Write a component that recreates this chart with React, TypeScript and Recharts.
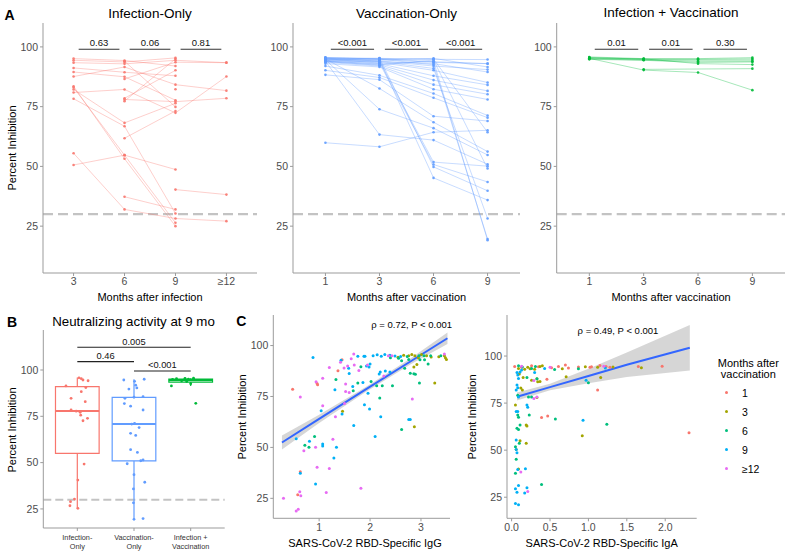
import React from 'react';
import {
  ScatterChart,
  ComposedChart,
  Scatter,
  Line,
  Area,
  XAxis,
  YAxis,
  ReferenceLine,
  ReferenceArea,
} from 'recharts';

const FONT = '"Liberation Sans", Arial, Helvetica, sans-serif';
const AXIS_GREY = '#9b9b9b';
const TICK_GREY = '#4d4d4d';
const CUTOFF_GREY = '#c3c3c3';

const GROUP_COLORS = ['#F8766D', '#619CFF', '#00BA38'];
const MONTH_COLORS = ['#F8766D', '#A3A500', '#00BF7D', '#00B0F6', '#E76BF3'];
const MONTH_LABELS = ['1', '3', '6', '9', '≥12'];

// ---- Panel A: paired samples, one row per subject (null = not sampled)
const infTimes = ['3', '6', '9', '≥12'];
const vacTimes = ['1', '3', '6', '9'];

const infOnly = [
  [95.1, 94.3, 92.0, null],
  [94.4, 93.7, 95.4, null],
  [93.4, 92.9, 94.4, 93.4],
  [91.2, 89.4, 87.9, null],
  [89.5, 87.5, 77.7, null],
  [87.6, 91.6, 84.2, 81.7],
  [83.5, 53.2, 25.0, null],
  [83.0, 54.7, 26.4, null],
  [82.2, 68.2, 76.4, null],
  [80.9, 82.2, 72.4, 87.6],
  [78.3, 66.8, 30.3, null],
  [55.5, 32.0, 28.2, 27.1],
  [50.6, 54.7, 48.7, null],
  [null, 37.3, 32.0, null],
  [null, 86.6, 93.6, 93.4],
  [null, 78.5, 90.2, null],
  [null, 78.0, 77.1, 78.5],
  [null, 77.3, 95.0, null],
  [null, 61.8, 73.2, null],
  [null, null, 40.3, 38.2],
  [null, null, 82.3, null],
  [null, 94.0, 74.9, null],
];

const vacOnly = [
  [95.5, 95.0, 94.8, 94.7],
  [95.2, 94.8, 93.5, 93.0],
  [95.0, 94.5, 95.2, 91.6],
  [94.8, 94.2, 92.0, 90.5],
  [94.5, 93.8, 93.0, 89.5],
  [94.2, 93.5, 90.2, 85.1],
  [94.0, 93.0, 87.9, 84.1],
  [93.8, 92.5, 86.1, 81.6],
  [93.5, 92.0, 84.2, 80.2],
  [93.0, 91.6, 82.3, 78.0],
  [92.0, 88.1, 80.5, 71.3],
  [90.2, 87.2, 78.7, 70.4],
  [88.3, 86.3, 71.0, 69.0],
  [95.0, 82.6, 68.5, 56.2],
  [94.6, 73.9, 66.0, 54.8],
  [59.9, 58.2, 64.3, 65.1],
  [94.0, 63.3, 61.0, 50.9],
  [95.3, 94.0, 51.8, 50.1],
  [95.1, 93.2, 50.8, 43.5],
  [94.9, 95.3, 49.8, 39.8],
  [94.7, 94.6, 45.2, 35.9],
  [94.3, 93.9, 91.0, 28.2],
  [95.4, 94.9, 92.5, 19.6],
  [94.1, 92.8, 94.0, 19.1],
  [93.9, 92.3, 94.5, 49.1],
  [95.6, 95.1, 93.8, 93.0],
  [null, 95.2, 94.9, 64.3],
];

const infVac = [
  [95.8, 95.1, 95.1, 95.5],
  [95.5, 94.9, 94.8, 95.0],
  [95.3, 94.7, 94.5, 94.5],
  [95.0, 94.5, 94.0, 94.0],
  [94.8, 94.4, 93.5, 93.7],
  [95.2, 90.3, 89.3, 81.9],
  [null, 90.6, null, 90.9],
  [95.4, 95.0, 93.0, 92.6],
];

const infOnlyP = ['0.63', '0.06', '0.81'];
const vacOnlyP = ['<0.001', '<0.001', '<0.001'];
const infVacP = ['0.01', '0.01', '0.30'];

// ---- Panel B: 9 month comparison
const groups9mo = ['Infection-\nOnly', 'Vaccination-\nOnly', 'Infection +\nVaccination'];
const box9mo = [
  { lo: 25.3, q1: 55.0, med: 77.9, q3: 91.0, hi: 96.0 },
  { lo: 19.4, q1: 50.9, med: 70.8, q3: 85.2, hi: 95.0 },
  { lo: 91.4, q1: 93.5, med: 94.6, q3: 95.1, hi: 95.6 },
];
const inf9mo = [
  [0.8, 91.4], [1.03, 95.8], [1.07, 95.3], [1.1, 94.6], [1.19, 94.2], [1.15, 90.5],
  [0.89, 84.7], [1.07, 88.3], [1.14, 82.9], [0.89, 78.4], [1.05, 77.2], [1.06, 75.6],
  [1.18, 73.9], [1.1, 72.6], [1.12, 49.2], [1.01, 40.6], [0.95, 30.3], [0.88, 28.9],
  [0.87, 26.7], [1.01, 25.3], [0.98, 77.8],
];
const vac9mo = [
  [1.82, 94.6], [2.18, 95.0], [2.01, 93.9], [2.03, 91.8], [2.05, 90.3], [1.91, 89.7],
  [1.84, 84.7], [1.83, 81.9], [1.94, 80.5], [2.0, 85.3], [2.16, 85.6], [2.16, 78.4],
  [2.01, 71.2], [2.09, 68.9], [1.94, 65.8], [2.03, 64.7], [1.94, 57.0], [2.06, 55.5],
  [1.88, 49.4], [2.12, 51.0], [2.16, 51.4], [2.0, 43.5], [2.19, 39.4], [1.99, 35.8],
  [1.99, 28.3], [2.0, 19.4], [2.16, 19.8], [1.96, 70.8],
];
const iv9mo = [
  [2.68, 94.9], [2.75, 95.3], [2.84, 94.2], [2.9, 95.5], [2.96, 95.0], [3.05, 95.6],
  [2.93, 93.8], [2.66, 91.4], [3.0, 92.6], [3.09, 82.0],
];
const brackets9mo = [
  { from: 1, to: 3, y: 112.3, p: '0.005' },
  { from: 1, to: 2, y: 104.5, p: '0.46' },
  { from: 2, to: 3, y: 99.5, p: '<0.001' },
];

// ---- Panel C: antibody level vs inhibition, by month after vaccination
const igg1 = [[0.48, 78.5], [0.96, 81.4], [1.37, 87.6], [1.45, 93.0], [0.63, 38.1], [0.58, 26.8], [0.97, 80.8]];
const igg3 = [
  [1.46, 67.7], [2.66, 95.2], [2.82, 95.6], [2.88, 95.0], [3.01, 95.6], [3.11, 95.0], [3.2, 94.4],
  [3.46, 95.0], [3.5, 93.2], [2.86, 89.5], [2.92, 90.7], [3.27, 81.6], [2.87, 60.1], [2.55, 94.2],
  [2.95, 94.0], [3.35, 94.5], [3.48, 94.0], [2.76, 95.0],
];
const igg6 = [
  [1.82, 89.6], [1.33, 83.3], [1.76, 81.6], [1.67, 77.8], [0.91, 55.3], [0.8, 50.1], [2.56, 93.8],
  [2.73, 94.6], [2.76, 93.2], [2.96, 95.0], [3.06, 95.0], [3.19, 95.0], [3.39, 95.0], [2.68, 88.8],
  [2.62, 92.5], [2.98, 93.0], [3.07, 93.0], [3.14, 91.0], [2.79, 86.4], [2.86, 86.1], [2.89, 85.9],
  [2.02, 82.3], [2.13, 80.3], [2.24, 80.3], [2.44, 80.3], [2.97, 81.6], [2.19, 74.2], [2.62, 58.8],
  [0.72, 51.0], [2.4, 94.0],
];
const igg9 = [
  [0.88, 94.1], [1.43, 92.8], [1.76, 94.8], [1.88, 94.8], [1.58, 88.8], [1.59, 86.3], [1.86, 81.9],
  [1.66, 79.9], [1.31, 78.3], [1.04, 68.0], [1.45, 66.4], [1.68, 60.7], [0.81, 53.0], [1.07, 51.7],
  [1.07, 50.7], [1.34, 50.1], [1.29, 44.8], [0.55, 54.2], [0.63, 37.3], [0.93, 32.0], [1.9, 94.8],
  [2.06, 95.0], [2.14, 95.5], [2.22, 94.8], [2.29, 95.6], [2.39, 95.3], [2.49, 94.9], [1.93, 90.0],
  [1.98, 89.5], [2.18, 86.0], [2.2, 87.0], [2.3, 87.5], [2.39, 87.0], [1.96, 76.6], [1.89, 71.0],
  [1.99, 68.9], [2.21, 65.0], [2.76, 63.7], [2.79, 63.7], [2.1, 55.3], [2.6, 94.6], [2.0, 91.0],
];
const igg12 = [
  [1.68, 95.8], [1.63, 93.5], [1.42, 91.8], [1.56, 90.0], [1.69, 90.5], [1.49, 89.0], [1.2, 89.2],
  [1.78, 87.7], [1.07, 84.0], [0.94, 82.2], [1.52, 81.1], [1.52, 77.5], [1.59, 77.0], [0.63, 74.8],
  [1.07, 70.4], [1.5, 71.6], [1.32, 65.1], [0.7, 48.4], [0.93, 50.1], [1.27, 54.0], [0.96, 40.2],
  [1.2, 39.7], [1.82, 30.0], [1.14, 27.9], [0.62, 28.2], [0.64, 26.3], [0.3, 25.0], [0.55, 18.8],
  [0.59, 19.6], [2.36, 95.0], [2.43, 95.0], [3.46, 95.8], [1.95, 90.5], [2.27, 85.0], [2.83, 73.8],
];
// fitted line with confidence band, read at a few x positions: [x, fit, lower, upper]
const iggFit = [[0.27, 52.4, 49.0, 55.8], [1.0, 64.0, 62.0, 66.0], [1.9, 78.2, 77.0, 79.4], [2.8, 92.3, 90.8, 93.8], [3.52, 103.6, 100.8, 106.4]];

const iga1 = [
  [0.04, 94.5], [0.26, 94.9], [0.35, 94.3], [0.52, 93.8], [0.61, 94.5], [0.7, 95.2], [0.74, 93.6],
  [1.02, 94.1], [1.04, 94.3], [1.15, 95.0], [1.23, 94.4], [1.28, 94.0], [1.65, 94.5], [1.96, 94.6],
  [0.46, 87.7], [1.12, 82.0], [0.39, 67.4], [0.47, 68.1], [2.31, 59.2], [0.87, 94.2], [0.13, 94.0],
];
const iga3 = [
  [0.09, 93.4], [0.17, 93.0], [0.21, 94.0], [0.24, 93.3], [0.3, 93.0], [0.37, 94.4], [0.4, 94.8],
  [0.66, 93.2], [0.96, 94.3], [1.12, 94.0], [1.32, 94.2], [1.69, 93.8], [0.1, 90.5], [0.15, 88.6],
  [0.33, 88.0], [0.37, 86.5], [0.26, 87.2], [0.34, 86.3], [0.71, 89.0], [1.16, 88.6], [0.12, 83.0],
  [0.14, 82.0], [0.33, 78.0], [0.05, 74.0], [0.19, 63.3], [0.2, 62.8], [0.11, 55.0], [0.19, 53.7],
  [0.06, 50.3], [0.92, 57.6], [0.09, 40.0],
];
const iga6 = [
  [0.09, 94.8], [0.14, 94.2], [0.26, 93.4], [0.31, 94.4], [0.56, 92.8], [0.87, 93.2], [0.2, 88.6],
  [0.33, 88.0], [0.08, 79.2], [0.22, 78.3], [0.26, 78.3], [0.08, 68.7], [0.09, 67.5], [0.23, 68.7],
  [0.57, 66.5], [0.11, 63.3], [0.07, 61.6], [0.09, 61.0], [0.1, 53.7], [0.05, 51.8], [0.06, 45.2],
  [0.05, 37.7], [0.39, 31.8], [1.0, 85.8], [1.24, 63.8],
];
const iga9 = [
  [0.11, 91.5], [0.07, 91.3], [0.08, 89.9], [0.09, 88.1], [0.3, 91.3], [0.43, 93.4], [0.13, 92.6],
  [0.07, 84.6], [0.08, 83.2], [0.06, 81.9], [0.09, 78.3], [0.2, 74.0], [0.21, 72.8], [0.06, 70.5],
  [0.08, 70.5], [0.93, 65.9], [0.97, 87.2], [1.22, 93.6], [0.06, 55.4], [0.06, 50.3], [0.07, 48.6],
  [0.08, 39.7], [0.18, 40.1], [0.09, 31.2], [0.05, 29.5], [0.07, 27.6], [0.17, 27.3], [0.2, 30.0],
  [0.05, 21.7], [0.09, 21.0],
];
const iga12 = [[0.29, 87.0], [0.29, 77.5], [0.33, 78.3], [0.12, 38.4], [0.21, 28.0], [1.2, 94.6], [0.13, 94.6], [0.5, 94.0]];
const igaFit = [[0.07, 78.4, 76.4, 80.6], [0.5, 83.5, 81.8, 85.3], [1.0, 89.4, 85.6, 93.2], [1.5, 95.4, 88.9, 101.9], [2.32, 104.4, 92.3, 116.5]];

// ---------------------------------------------------------------------------

const toPts = (arr: number[][]) => arr.map(([x, y]) => ({ x, y }));
const toFit = (arr: number[][]) => arr.map(([x, y, lo, hi]) => ({ x, y, band: [lo, hi] }));

const axisProps: any = {
  axisLine: { stroke: AXIS_GREY },
  tickLine: { stroke: AXIS_GREY },
  tickSize: 3,
  tickMargin: 2,
  tick: { fill: TICK_GREY, fontSize: 10.5, fontFamily: FONT },
};

const dot = (r: number, color: string, opacity = 1) => (p: any) =>
  p.cx == null ? <g /> : <circle cx={p.cx} cy={p.cy} r={r} fill={color} fillOpacity={opacity} />;

const Txt = ({ x, y, size = 11, bold = false, rotate = false, color = '#000', children }: any) => (
  <div
    style={{
      position: 'absolute',
      left: x,
      top: y,
      transform: `translate(-50%, -50%)${rotate ? ' rotate(-90deg)' : ''}`,
      fontSize: size,
      fontWeight: bold ? 700 : 400,
      color,
      whiteSpace: 'nowrap',
      lineHeight: 1,
      fontFamily: FONT,
    }}
  >
    {children}
  </div>
);

function PairedPanel({ left, width, yAxisW, right, times, subjects, pvals, color }: any) {
  const series = subjects.map((row: (number | null)[]) =>
    row.flatMap((v, i) => (v == null ? [] : [{ x: i + 1, y: v }]))
  );
  return (
    <div style={{ position: 'absolute', left, top: 0 }}>
      <ScatterChart width={width} height={305} margin={{ top: 23, right, bottom: 0, left: 0 }}>
        <XAxis
          {...axisProps}
          type="number"
          dataKey="x"
          domain={[0.4, 4.6]}
          ticks={[1, 2, 3, 4]}
          tickFormatter={(v: number) => times[v - 1]}
          height={32}
          allowDataOverflow
        />
        <YAxis
          {...axisProps}
          type="number"
          dataKey="y"
          domain={[5.4, 110]}
          ticks={[25, 50, 75, 100]}
          width={yAxisW}
          allowDataOverflow
        />
        <ReferenceLine y={30} stroke={CUTOFF_GREY} strokeWidth={2.2} strokeDasharray="10 5" />
        {series.map((pts: any[], k: number) => (
          <Scatter
            key={k}
            data={pts}
            fill={color}
            line={{ stroke: color, strokeWidth: 0.7, strokeOpacity: 0.5 }}
            shape={dot(1.3, color, 0.9)}
            isAnimationActive={false}
          />
        ))}
        {pvals.map((p: string, i: number) => (
          <ReferenceLine
            key={'b' + i}
            segment={[{ x: i + 1.1, y: 99 }, { x: i + 1.9, y: 99 }]}
            stroke="#333"
            strokeWidth={1.1}
            label={{ value: p, position: 'top', offset: 3, fontSize: 9.5, fill: '#111', fontFamily: FONT }}
          />
        ))}
      </ScatterChart>
    </div>
  );
}

const GroupTick = (props: any) => {
  const { x, y, payload } = props;
  const lines = groups9mo[payload.value - 1].split('\n');
  return (
    <text x={x} y={y} textAnchor="middle" fontSize={7.3} fill="#333" fontFamily={FONT}>
      {lines.map((l, i) => (
        <tspan key={i} x={x} dy={i === 0 ? 7 : 9}>
          {l}
        </tspan>
      ))}
    </text>
  );
};

function BoxPanel() {
  const pts = [inf9mo, vac9mo, iv9mo];
  const hw = 0.385;
  return (
    <div style={{ position: 'absolute', left: 0, top: 300 }}>
      <ScatterChart width={230} height={254} margin={{ top: 30, right: 5.3, bottom: 0, left: 0 }}>
        <XAxis
          {...axisProps}
          type="number"
          dataKey="x"
          domain={[0.4, 3.6]}
          ticks={[1, 2, 3]}
          tick={<GroupTick />}
          height={26}
          allowDataOverflow
        />
        <YAxis
          {...axisProps}
          type="number"
          dataKey="y"
          domain={[14.7, 121.6]}
          ticks={[25, 50, 75, 100]}
          width={43.3}
          allowDataOverflow
        />
        <ReferenceLine y={30} stroke={CUTOFF_GREY} strokeWidth={2} strokeDasharray="8 4" />
        {box9mo.map((b, i) => (
          <ReferenceArea
            key={'box' + i}
            x1={i + 1 - hw}
            x2={i + 1 + hw}
            y1={b.q1}
            y2={b.q3}
            fill="none"
            fillOpacity={0}
            stroke={GROUP_COLORS[i]}
            strokeWidth={1.2}
            strokeOpacity={1}
          />
        ))}
        {box9mo.map((b, i) => (
          <ReferenceLine
            key={'med' + i}
            segment={[{ x: i + 1 - hw, y: b.med }, { x: i + 1 + hw, y: b.med }]}
            stroke={GROUP_COLORS[i]}
            strokeWidth={2}
          />
        ))}
        {box9mo.map((b, i) => (
          <ReferenceLine
            key={'wu' + i}
            segment={[{ x: i + 1, y: b.q3 }, { x: i + 1, y: b.hi }]}
            stroke={GROUP_COLORS[i]}
            strokeWidth={1.2}
          />
        ))}
        {box9mo.map((b, i) => (
          <ReferenceLine
            key={'wl' + i}
            segment={[{ x: i + 1, y: b.q1 }, { x: i + 1, y: b.lo }]}
            stroke={GROUP_COLORS[i]}
            strokeWidth={1.2}
          />
        ))}
        {pts.map((arr, i) => (
          <Scatter
            key={'p' + i}
            data={toPts(arr)}
            fill={GROUP_COLORS[i]}
            shape={dot(1.4, GROUP_COLORS[i])}
            isAnimationActive={false}
          />
        ))}
        {brackets9mo.map((b, i) => (
          <ReferenceLine
            key={'br' + i}
            segment={[{ x: b.from, y: b.y }, { x: b.to, y: b.y }]}
            stroke="#222"
            strokeWidth={1.1}
            label={{ value: b.p, position: 'top', offset: 2.5, fontSize: 9.3, fill: '#111', fontFamily: FONT }}
          />
        ))}
      </ScatterChart>
    </div>
  );
}

function CorrPanel({ left, width, yAxisW, right, groups, fit, xDomain, xTicks, xFmt, yDomain }: any) {
  const fitData = toFit(fit);
  return (
    <div style={{ position: 'absolute', left, top: 300 }}>
      <ComposedChart width={width} height={254} margin={{ top: 15, right, bottom: 0, left: 0 }}>
        <XAxis
          {...axisProps}
          type="number"
          dataKey="x"
          domain={xDomain}
          ticks={xTicks}
          tickFormatter={xFmt}
          height={35.7}
          allowDataOverflow
        />
        <YAxis
          {...axisProps}
          type="number"
          dataKey="y"
          domain={yDomain}
          ticks={[25, 50, 75, 100]}
          width={yAxisW}
          allowDataOverflow
        />
        {groups.map((arr: number[][], i: number) => (
          <Scatter
            key={'m' + i}
            data={toPts(arr)}
            fill={MONTH_COLORS[i]}
            shape={dot(1.5, MONTH_COLORS[i])}
            isAnimationActive={false}
          />
        ))}
        <Area
          data={fitData}
          dataKey="band"
          type="linear"
          stroke="none"
          fill="#999999"
          fillOpacity={0.4}
          isAnimationActive={false}
        />
        <Line
          data={fitData}
          dataKey="y"
          type="linear"
          stroke="#3366FF"
          strokeWidth={2}
          dot={false}
          isAnimationActive={false}
        />
      </ComposedChart>
    </div>
  );
}

export default function App() {
  return (
    <div
      style={{
        position: 'absolute',
        left: 0,
        top: 0,
        width: 791,
        height: 554,
        background: '#fff',
        overflow: 'hidden',
        fontFamily: FONT,
      }}
    >
      <PairedPanel left={0} width={265} yAxisW={43} right={8} times={infTimes} subjects={infOnly} pvals={infOnlyP} color={GROUP_COLORS[0]} />
      <PairedPanel left={260} width={265} yAxisW={33} right={5} times={vacTimes} subjects={vacOnly} pvals={vacOnlyP} color={GROUP_COLORS[1]} />
      <PairedPanel left={525} width={266} yAxisW={31.7} right={6} times={vacTimes} subjects={infVac} pvals={infVacP} color={GROUP_COLORS[2]} />
      <BoxPanel />
      <CorrPanel
        left={230}
        width={225}
        yAxisW={43.3}
        right={5}
        groups={[igg1, igg3, igg6, igg9, igg12]}
        fit={iggFit}
        xDomain={[0.1, 3.57]}
        xTicks={[1, 2, 3]}
        xFmt={(v: number) => String(v)}
        yDomain={[15.2, 115]}
      />
      <CorrPanel
        left={460}
        width={242}
        yAxisW={47}
        right={5.3}
        groups={[iga1, iga3, iga6, iga9, iga12]}
        fit={igaFit}
        xDomain={[-0.06, 2.41]}
        xTicks={[0, 0.5, 1, 1.5, 2]}
        xFmt={(v: number) => v.toFixed(1)}
        yDomain={[13.8, 121.8]}
      />

      {/* panel letters and titles */}
      <Txt x={9.5} y={14.5} size={14} bold>A</Txt>
      <Txt x={12} y={322} size={14} bold>B</Txt>
      <Txt x={241.3} y={321} size={14} bold>C</Txt>
      <Txt x={150} y={13.5} size={13.5}>Infection-Only</Txt>
      <Txt x={406.5} y={13.5} size={13.5}>Vaccination-Only</Txt>
      <Txt x={671} y={13} size={13.5}>Infection + Vaccination</Txt>
      <Txt x={133.5} y={322} size={13.3}>Neutralizing activity at 9 mo</Txt>

      {/* axis titles */}
      <Txt x={11.7} y={148.3} size={11} rotate>Percent Inhibition</Txt>
      <Txt x={150} y={297} size={11}>Months after infection</Txt>
      <Txt x={406.5} y={297} size={11}>Months after vaccination</Txt>
      <Txt x={671} y={297} size={11}>Months after vaccination</Txt>
      <Txt x={11.7} y={430} size={11} rotate>Percent Inhibition</Txt>
      <Txt x={241.7} y={416.7} size={11} rotate>Percent Inhibition</Txt>
      <Txt x={471.7} y={416.7} size={11} rotate>Percent Inhibition</Txt>
      <Txt x={365} y={543} size={11}>SARS-CoV-2 RBD-Specific IgG</Txt>
      <Txt x={601.7} y={543.3} size={11}>SARS-CoV-2 RBD-Specific IgA</Txt>

      {/* correlation annotations */}
      <Txt x={411.7} y={325} size={9.5}>ρ = 0.72, P &lt; 0.001</Txt>
      <Txt x={618} y={330.7} size={9.5}>ρ = 0.49, P &lt; 0.001</Txt>

      {/* legend */}
      <Txt x={748.3} y={362.7} size={11}>Months after</Txt>
      <Txt x={748.3} y={374.3} size={11}>vaccination</Txt>
      {MONTH_LABELS.map((m, i) => (
        <React.Fragment key={m}>
          <div
            style={{
              position: 'absolute',
              left: 725.3,
              top: 391.3 + i * 19,
              width: 3,
              height: 3,
              borderRadius: '50%',
              background: MONTH_COLORS[i],
            }}
          />
          <div
            style={{
              position: 'absolute',
              left: 742,
              top: 392.7 + i * 19,
              transform: 'translateY(-50%)',
              fontSize: 10.5,
              lineHeight: 1,
              fontFamily: FONT,
              color: '#000',
            }}
          >
            {m}
          </div>
        </React.Fragment>
      ))}
    </div>
  );
}
